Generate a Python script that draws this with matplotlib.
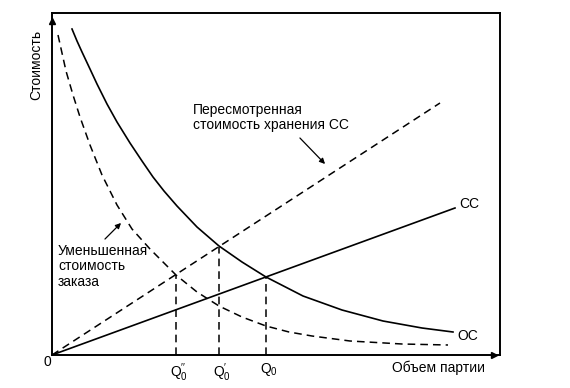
import numpy as np
import matplotlib.pyplot as plt

plt.rcParams['font.family'] = ['Liberation Sans', 'DejaVu Sans']
plt.rcParams['mathtext.fontset'] = 'custom'
plt.rcParams['mathtext.rm'] = 'Liberation Sans'

# кривые (единицы условные)
oc_x = [20, 25, 30, 38, 45, 55, 65, 78, 90, 101, 112, 125, 145, 167, 190,
        214, 251, 290, 331, 370, 401]
oc_y = [326, 314, 303, 286, 271, 251, 233, 212, 194, 178, 164, 149, 128,
        109, 93, 78, 59, 45, 34, 27, 23]
oc_new_x = [6, 10, 14, 21, 28, 38, 50, 65, 80, 98, 110, 124, 145, 167, 190,
            214, 237, 260, 298, 350, 396]
oc_new_y = [320, 302, 284, 260, 238, 210, 180, 150, 126, 106, 94, 80, 63,
            49, 38, 29, 23, 19, 14, 11, 10]
cc_x = [0, 403]
cc_y = [0, 147]
cc_new_x = [0, 388]
cc_new_y = [0, 252]
q_x = [124, 167, 214]
q_y = [80, 108, 78]
q_labels = ["$\\mathrm{Q}_0^{\\prime\\prime}$", "$\\mathrm{Q}_0^{\\prime}$",
            "$\\mathrm{Q}_0$"]

fig = plt.figure(figsize=(5.7, 3.88), dpi=100)
ax = fig.add_axes([52 / 570, 1 - 355 / 388, 448 / 570, 342 / 388])
ax.set_xlim(0, 448)
ax.set_ylim(0, 342)
ax.set_xticks([])
ax.set_yticks([])
for s in ax.spines.values():
    s.set_linewidth(1.4)

dash = (5, 3.3)
ax.plot(oc_x, oc_y, color='black', lw=1.2)
ax.plot(oc_new_x, oc_new_y, color='black', lw=1.1, dashes=dash)
ax.plot(cc_x, cc_y, color='black', lw=1.2)
ax.plot(cc_new_x, cc_new_y, color='black', lw=1.1, dashes=dash)
ax.vlines(q_x, 0, q_y, colors='black', lw=1.1, linestyles=(0, dash))

# стрелки на осях
ax.plot(0, 334, marker='^', color='black', ms=4, clip_on=False)
ax.plot(442, 0, marker='>', color='black', ms=4, clip_on=False)

fs = 10
ax.text(-16, 290, "Стоимость", rotation=90, ha='center', va='center',
        fontsize=fs, clip_on=False)
ax.text(-5, -7, "0", ha='center', va='center', fontsize=fs, clip_on=False)
for qx, lab in zip(q_x, q_labels):
    ax.text(qx - 6, -6, lab, ha='left', va='top', fontsize=fs,
            clip_on=False)
ax.text(386, -13, "Объем партии", ha='center', va='center', fontsize=fs,
        clip_on=False)
ax.text(407, 151, "CC", ha='left', va='center', fontsize=fs)
ax.text(405, 19, "OC", ha='left', va='center', fontsize=fs)

ax.text(141, 245, "Пересмотренная", ha='left', va='center', fontsize=fs)
ax.text(141, 230, "стоимость хранения СС", ha='left', va='center',
        fontsize=fs)
ax.annotate("", xy=(275, 189), xytext=(246, 219),
            arrowprops=dict(arrowstyle='-|>', color='black', lw=0.9,
                            mutation_scale=8))

ax.text(6, 104, "Уменьшенная", ha='left', va='center', fontsize=fs)
ax.text(6, 89, "стоимость", ha='left', va='center', fontsize=fs)
ax.text(6, 73, "заказа", ha='left', va='center', fontsize=fs)
ax.annotate("", xy=(71, 134), xytext=(51, 114),
            arrowprops=dict(arrowstyle='-|>', color='black', lw=0.9,
                            mutation_scale=8))

fig.savefig("out.png", dpi=100)
